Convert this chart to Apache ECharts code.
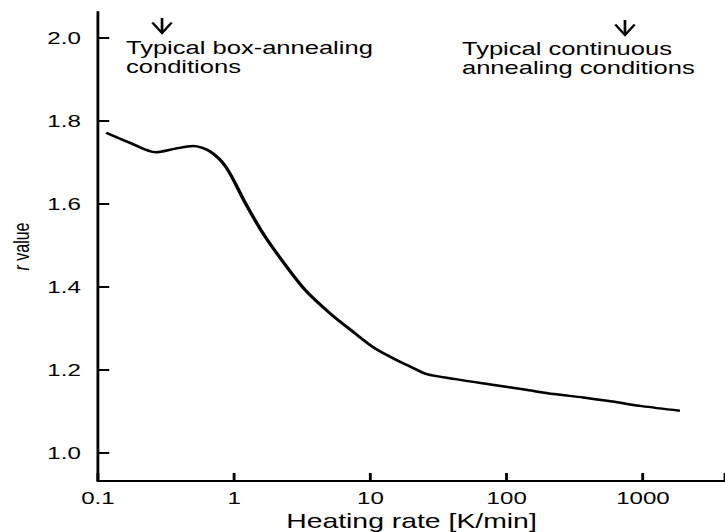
<!DOCTYPE html>
<html>
<head>
<meta charset="utf-8">
<script src="https://cdn.jsdelivr.net/npm/echarts@6/dist/echarts.min.js"></script>
<style>
html, body { margin: 0; padding: 0; background: #fff; overflow: hidden; width: 725px; height: 532px; }
#main { width: 511px; height: 532px; transform: scaleX(1.4188); transform-origin: 0 0; }
</style>
</head>
<body>
<div id="main"></div>
<script>
// Data
const heatingRate = [0.115, 0.174, 0.266, 0.364, 0.499, 0.658, 0.868, 1.21, 1.63, 2.33, 3.32, 5.04, 7.2, 10.8, 15.8, 19.7, 25.9, 42.2, 80.9, 135, 222, 364, 597, 981, 1866];
const rValue = [1.772, 1.747, 1.725, 1.733, 1.740, 1.728, 1.690, 1.602, 1.529, 1.457, 1.393, 1.337, 1.296, 1.252, 1.223, 1.208, 1.190, 1.178, 1.164, 1.153, 1.142, 1.134, 1.124, 1.113, 1.102];
const xTickValues = [0.1, 1, 10, 100, 1000];
const xTickLabels = ['0.1', '1', '10', '100', '1000'];
const yTickValues = [1.0, 1.2, 1.4, 1.6, 1.8, 2.0];
const boxText = 'Typical box-annealing\nconditions';
const contText = 'Typical continuous\nannealing conditions';

const FONT = '"Liberation Sans", Arial, Helvetica, sans-serif';
const chart = echarts.init(document.getElementById('main'), null, { renderer: 'svg' });

function arrow(x, yTop, yTip) {
  return [
    { type: 'line', shape: { x1: x, y1: yTop, x2: x, y2: yTip }, style: { stroke: '#000', lineWidth: 1.9 } },
    { type: 'polyline', shape: { points: [[x - 6.8, yTip - 10.5], [x, yTip], [x + 6.8, yTip - 10.5]] }, style: { stroke: '#000', fill: null, lineWidth: 1.9 } }
  ];
}

const option = {
  animation: false,
  backgroundColor: '#fff',
  grid: { left: 69, right: 0, top: 12, bottom: 51, outerBoundsMode: 'none' },
  xAxis: {
    type: 'log',
    logBase: 10,
    min: 0.1,
    max: 4000,
    name: 'Heating rate [K/min]',
    nameLocation: 'middle',
    nameGap: 29,
    nameTextStyle: { fontSize: 20, fontFamily: FONT, color: '#000' },
    axisLine: { lineStyle: { color: '#000', width: 2 } },
    axisTick: { inside: true, length: 8, lineStyle: { color: '#000', width: 2 } },
    minorTick: { show: false },
    splitLine: { show: false },
    axisLabel: {
      fontSize: 17, fontFamily: FONT, color: '#000', margin: 8,
      formatter: function (v) {
        for (let i = 0; i < xTickValues.length; i++) {
          if (Math.abs(Math.log10(v) - Math.log10(xTickValues[i])) < 1e-6) return xTickLabels[i];
        }
        return '';
      }
    }
  },
  yAxis: {
    type: 'value',
    min: 0.9325,
    max: 2.063,
    name: '{i|r} value',
    nameLocation: 'middle',
    nameGap: 46,
    nameTextStyle: { fontSize: 16, fontFamily: FONT, color: '#000', rich: { i: { fontStyle: 'italic', fontSize: 16, fontFamily: FONT, color: '#000' } } },
    axisLine: { show: true, lineStyle: { color: '#000', width: 2 } },
    axisTick: { show: true, inside: true, length: 8, customValues: yTickValues, lineStyle: { color: '#000', width: 2 } },
    splitLine: { show: false },
    axisLabel: { customValues: yTickValues, fontSize: 17, fontFamily: FONT, color: '#000', margin: 12, formatter: v => v.toFixed(1) }
  },
  graphic: [
    ...arrow(114.2, 18, 33),
    { type: 'text', x: 88.8, y: 39, style: { text: boxText, font: '18px ' + FONT, fill: '#000', lineHeight: 18.5, verticalAlign: 'top' } },
    ...arrow(440.5, 20, 35),
    { type: 'text', x: 325.6, y: 40, style: { text: contText, font: '18px ' + FONT, fill: '#000', lineHeight: 18.5, verticalAlign: 'top' } }
  ],
  series: [{
    type: 'line',
    data: heatingRate.map((x, i) => [x, rValue[i]]),
    showSymbol: false,
    smooth: 0.3,
    lineStyle: { color: '#000', width: 2.5 }
  }]
};
chart.setOption(option);
</script>
</body>
</html>
